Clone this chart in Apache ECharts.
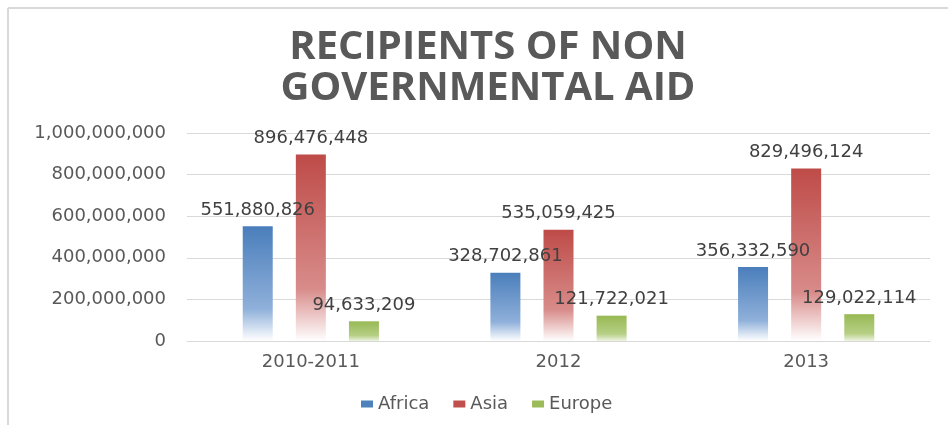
<!DOCTYPE html>
<html>
<head>
<meta charset="utf-8">
<script src="https://cdn.jsdelivr.net/npm/echarts@6/dist/echarts.min.js"></script>
<style>
  html, body { margin: 0; padding: 0; background: #ffffff; }
  #chart { width: 948px; height: 425px; }
</style>
</head>
<body>
<div id="chart"></div>
<script>
// Recipients of non governmental aid, by region and period
const categories = ['2010-2011', '2012', '2013'];
const africa = [551880826, 328702861, 356332590];
const asia = [896476448, 535059425, 829496124];
const europe = [94633209, 121722021, 129022114];
const seriesNames = ['Africa', 'Asia', 'Europe'];
const yTicks = { min: 0, max: 1000000000, interval: 200000000 };

const numFont = 'DejaVu Sans';
const solid = ['#4f81bd', '#c0504d', '#9bbb59'];
const fmt = v => Number(v).toLocaleString('en-US');

// vertical fade: solid at the top, washing out to white at the base
function fade(top, mid, base) {
  return {
    type: 'linear', x: 0, y: 0, x2: 0, y2: 1,
    colorStops: [
      { offset: 0, color: top },
      { offset: 0.72, color: mid },
      { offset: 1, color: base }
    ]
  };
}

function barSeries(name, values, gradient) {
  return {
    name: name,
    type: 'bar',
    data: values,
    barGap: '77%',
    barCategoryGap: '45%',
    itemStyle: { color: gradient },
    label: {
      show: true,
      position: 'top',
      distance: 7,
      formatter: p => fmt(p.value),
      fontFamily: numFont,
      fontSize: 18,
      color: '#404040'
    },
    z: 2
  };
}

const chart = echarts.init(document.getElementById('chart'), null, { renderer: 'canvas' });

chart.setOption({
  backgroundColor: '#ffffff',
  animation: false,
  color: solid,
  title: {
    text: 'RECIPIENTS OF NON\nGOVERNMENTAL AID',
    left: 483,
    top: 22,
    textAlign: 'center',
    textStyle: {
      fontFamily: 'Open Sans',
      fontWeight: 'bold',
      fontSize: 40,
      lineHeight: 41,
      color: '#595959'
    }
  },
  legend: {
    data: seriesNames.map((n, i) => ({ name: n, itemStyle: { color: solid[i] } })),
    left: 356,
    top: 390,
    itemWidth: 12,
    itemHeight: 7,
    itemGap: 24,
    icon: 'rect',
    textStyle: { fontFamily: numFont, fontSize: 18, color: '#595959' }
  },
  grid: { left: 187, right: 18, top: 133, bottom: 84, containLabel: false },
  xAxis: {
    type: 'category',
    data: categories,
    axisLine: { show: true, lineStyle: { color: '#d9d9d9', width: 1 } },
    axisTick: { show: false },
    axisLabel: { fontFamily: numFont, fontSize: 18, color: '#595959', margin: 12 }
  },
  yAxis: {
    type: 'value',
    min: yTicks.min,
    max: yTicks.max,
    interval: yTicks.interval,
    axisLine: { show: false },
    axisTick: { show: false },
    splitLine: { lineStyle: { color: '#d9d9d9', width: 1 } },
    axisLabel: { fontFamily: numFont, fontSize: 18, color: '#595959', margin: 21, formatter: v => fmt(v) }
  },
  graphic: [
    { type: 'line', shape: { x1: 8, y1: 8, x2: 948, y2: 8 }, style: { stroke: '#d9d9d9', lineWidth: 2 } },
    { type: 'line', shape: { x1: 8, y1: 8, x2: 8, y2: 425 }, style: { stroke: '#d9d9d9', lineWidth: 2 } }
  ],
  series: [
    barSeries(seriesNames[0], africa, fade('#4a7ebb', '#8fb0da', '#ffffff')),
    barSeries(seriesNames[1], asia, fade('#be4b48', '#d88c8a', '#ffffff')),
    barSeries(seriesNames[2], europe, fade('#98b954', '#b6cf85', '#eef4e2'))
  ]
});
</script>
</body>
</html>
